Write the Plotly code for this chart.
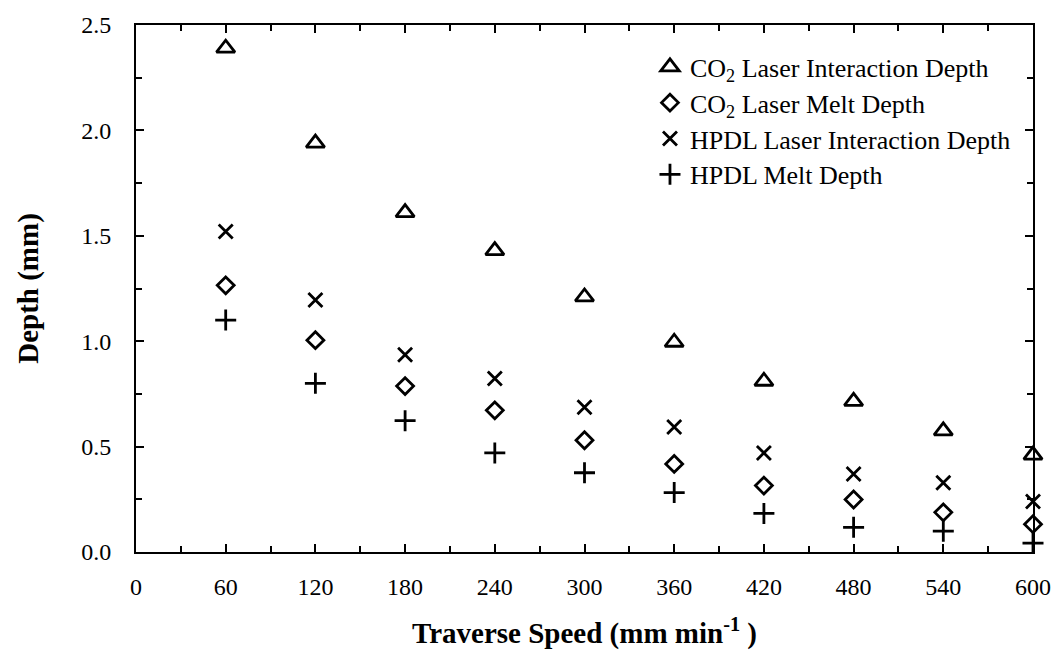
import plotly.graph_objects as go

speed = [60, 120, 180, 240, 300, 360, 420, 480, 540, 600]
co2_interaction = [2.39, 1.94, 1.61, 1.43, 1.21, 0.995, 0.81, 0.715, 0.575, 0.46]
co2_melt = [1.265, 1.005, 0.787, 0.672, 0.53, 0.418, 0.315, 0.249, 0.188, 0.132]
hpdl_interaction = [1.52, 1.195, 0.936, 0.823, 0.687, 0.593, 0.47, 0.37, 0.329, 0.24]
hpdl_melt = [1.10, 0.80, 0.623, 0.47, 0.376, 0.282, 0.183, 0.117, 0.099, 0.042]

series = [
    ("CO<sub>2</sub> Laser Interaction Depth", co2_interaction, "triangle-up-open", 16, "legend"),
    ("CO<sub>2</sub> Laser Melt Depth", co2_melt, "diamond-open", 13, "legend2"),
    ("HPDL Laser Interaction Depth", hpdl_interaction, "x-thin-open", 14, "legend3"),
    ("HPDL Melt Depth", hpdl_melt, "cross-thin-open", 15, "legend4"),
]

fig = go.Figure()
for name, vals, sym, size, leg in series:
    fig.add_trace(go.Scatter(
        x=speed, y=vals, mode="markers", name=name, legend=leg,
        showlegend=True, cliponaxis=False,
        marker=dict(symbol=sym, size=size, color="black",
                    line=dict(color="black", width=2.8)),
    ))

legend_font = dict(family="Liberation Serif", size=26, color="black")
leg_common = dict(x=0.573, xanchor="left", yanchor="middle", font=legend_font,
                  bgcolor="rgba(0,0,0,0)", borderwidth=0, itemwidth=30, visible=True)
ys = [0.9205, 0.8525, 0.7845, 0.7165]

fig.update_layout(
    width=1064, height=668,
    margin=dict(l=136, r=31, t=20, b=116),
    showlegend=True,
    paper_bgcolor="white", plot_bgcolor="white",
    font=dict(family="Liberation Serif", size=24, color="black"),
    legend=dict(y=ys[0], **leg_common),
    legend2=dict(y=ys[1], **leg_common),
    legend3=dict(y=ys[2], **leg_common),
    legend4=dict(y=ys[3], **leg_common),
    xaxis=dict(
        range=[0, 600], tickmode="array", tickvals=[0, 60, 120, 180, 240, 300, 360, 420, 480, 540, 600],
        ticks="inside", ticklen=8, tickwidth=2, tickcolor="black",
        minor=dict(dtick=30, tick0=0, ticks="inside", ticklen=6, tickwidth=2, tickcolor="black"),
        showline=True, linewidth=2, linecolor="black", mirror="ticks",
        showgrid=False, zeroline=False,
        tickfont=dict(family="Liberation Serif", size=24),
        ticklabelstandoff=12,
        title=dict(text="<b>Traverse Speed (mm min<sup>-1</sup> )</b>",
                   font=dict(family="Liberation Serif", size=29), standoff=24),
    ),
    yaxis=dict(
        range=[0, 2.5], tickmode="array", tickvals=[0, 0.5, 1.0, 1.5, 2.0, 2.5],
        ticktext=["0.0", "0.5", "1.0", "1.5", "2.0", "2.5"],
        ticks="inside", ticklen=8, tickwidth=2, tickcolor="black",
        minor=dict(dtick=0.25, tick0=0, ticks="inside", ticklen=6, tickwidth=2, tickcolor="black"),
        showline=True, linewidth=2, linecolor="black", mirror="ticks",
        showgrid=False, zeroline=False,
        tickfont=dict(family="Liberation Serif", size=24),
        ticklabelstandoff=18,
        title=dict(text="<b>Depth (mm)</b>",
                   font=dict(family="Liberation Serif", size=29), standoff=34),
    ),
)

fig.write_html("out.html")
